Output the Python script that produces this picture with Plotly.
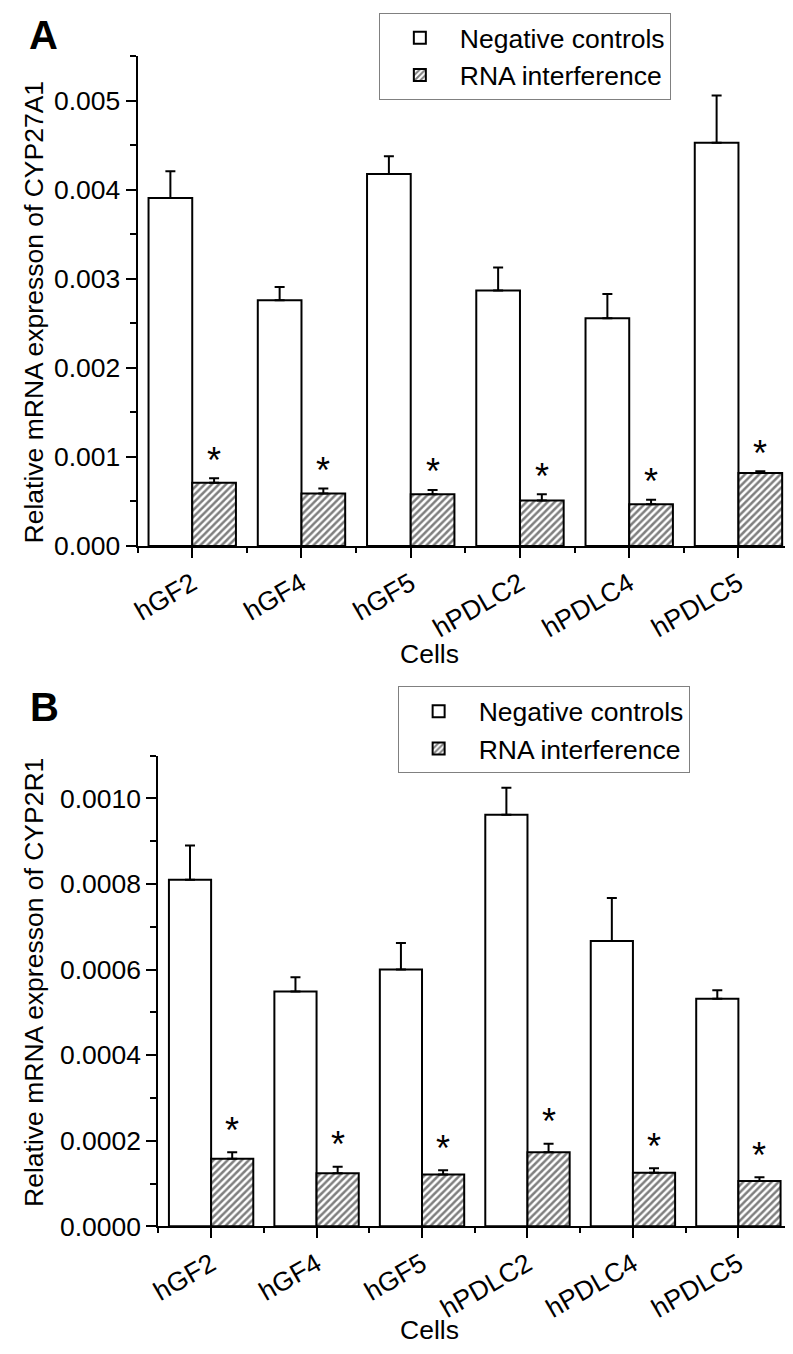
import plotly.graph_objects as go

# ---- data ----
cells = ["hGF2", "hGF4", "hGF5", "hPDLC2", "hPDLC4", "hPDLC5"]
series_names = ["Negative controls", "RNA interference"]

a_nc = [0.00391, 0.00276, 0.00418, 0.00287, 0.00256, 0.00453]
a_nc_err = [0.00030, 0.00015, 0.00020, 0.00026, 0.00027, 0.00053]
a_ri = [0.00071, 0.00059, 0.00058, 0.00051, 0.00047, 0.00082]
a_ri_err = [0.00005, 0.000055, 0.00005, 0.00007, 0.00005, 0.00002]

b_nc = [0.000810, 0.000549, 0.000600, 0.000962, 0.000667, 0.000532]
b_nc_err = [0.000080, 0.000033, 0.000062, 0.000063, 0.000100, 0.000020]
b_ri = [0.000158, 0.000124, 0.000121, 0.000173, 0.000125, 0.000106]
b_ri_err = [0.000015, 0.000015, 0.000010, 0.000020, 0.000011, 0.000009]

y_title_a = "Relative mRNA expresson of CYP27A1"
y_title_b = "Relative mRNA expresson of CYP2R1"
x_title = "Cells"

W, H = 793, 1354
FONT = "Liberation Sans, Arial, sans-serif"
FS = 26.5


def px_x(p):
    return p / W


def px_y(p):
    return 1 - p / H


xs = list(range(len(cells)))

fig = go.Figure()


def add_panel(nc, nc_err, ri, ri_err, xaxis, yaxis, legend):
    fig.add_trace(go.Bar(
        x=xs, y=nc, name=series_names[0], xaxis=xaxis, yaxis=yaxis,
        legend=legend, offsetgroup="nc",
        marker=dict(color="white", line=dict(color="black", width=2)),
        error_y=dict(type="data", symmetric=False, array=nc_err,
                     arrayminus=[0] * len(nc), color="black", thickness=2, width=5),
    ))
    fig.add_trace(go.Bar(
        x=xs, y=ri, name=series_names[1], xaxis=xaxis, yaxis=yaxis,
        legend=legend, offsetgroup="ri",
        marker=dict(color="white", line=dict(color="black", width=2),
                    pattern=dict(shape="/", fgcolor="black", bgcolor="white",
                                 size=5, solidity=0.5)),
        error_y=dict(type="data", symmetric=False, array=ri_err,
                     arrayminus=[0] * len(ri), color="black", thickness=2, width=5),
    ))


add_panel(a_nc, a_nc_err, a_ri, a_ri_err, "x", "y", "legend")
add_panel(b_nc, b_nc_err, b_ri, b_ri_err, "x2", "y2", "legend2")

xcommon = dict(
    range=[-0.5, len(cells) - 0.5], tickvals=xs, ticktext=cells,
    ticks="outside", ticklen=10, tickwidth=2, tickcolor="black",
    minor=dict(dtick=1, tick0=0.5, ticks="outside", ticklen=5, tickwidth=2,
               tickcolor="black", showgrid=False),
    showline=True, linewidth=2, linecolor="black", showgrid=False,
    zeroline=False, tickangle=-30, fixedrange=True,
    tickfont=dict(family=FONT, size=FS, color="black"),
)
ycommon = dict(
    ticks="outside", ticklen=10, tickwidth=2, tickcolor="black",
    showline=True, linewidth=2, linecolor="black", showgrid=False,
    zeroline=False, fixedrange=True,
    tickfont=dict(family=FONT, size=FS, color="black"),
)

legend_common = dict(xanchor="left", yanchor="top",
                     bordercolor="#808080", borderwidth=1, bgcolor="white",
                     font=dict(family=FONT, size=FS, color="black"),
                     itemwidth=70, tracegroupgap=0)

fig.update_layout(
    width=W, height=H, margin=dict(l=0, r=0, t=0, b=0),
    paper_bgcolor="white", plot_bgcolor="white",
    barmode="group", bargap=0.2, bargroupgap=0,
    font=dict(family=FONT, size=FS, color="black"),
    xaxis=dict(domain=[px_x(122), px_x(785)], anchor="y", **xcommon),
    yaxis=dict(domain=[px_y(544), px_y(49)], anchor="x", range=[0, 0.0055],
               dtick=0.001, tick0=0, tickformat=".3f",
               minor=dict(dtick=0.0005, ticks="outside", ticklen=6, tickwidth=2,
                          tickcolor="black", showgrid=False),
               **ycommon),
    xaxis2=dict(domain=[px_x(143), px_x(783)], anchor="y2", **xcommon),
    yaxis2=dict(domain=[px_y(1232), px_y(756)], anchor="x2", range=[0, 0.0011],
                dtick=0.0002, tick0=0, tickformat=".4f",
                minor=dict(dtick=0.0001, ticks="outside", ticklen=6, tickwidth=2,
                           tickcolor="black", showgrid=False),
                **ycommon),
    legend=dict(x=px_x(366), y=px_y(5), **legend_common),
    legend2=dict(x=px_x(385), y=px_y(686), **legend_common),
    showlegend=True,
)

annotations = []
# significance stars above the RNA interference bars
for xa, ya, vals, errs, shift in (("x", "y", a_ri, a_ri_err, 18),
                                  ("x2", "y2", b_ri, b_ri_err, 22)):
    for i, (v, e) in enumerate(zip(vals, errs)):
        annotations.append(dict(
            x=xs[i] + 0.2, y=v + e, xref=xa, yref=ya, text="*",
            showarrow=False, xanchor="center", yanchor="middle", yshift=shift,
            font=dict(family=FONT, size=36, color="black")))

# axis titles and panel letters
for txt, x, y, ang in ((y_title_a, 17, 307, -90), (y_title_b, 17, 985, -90),
                       (x_title, 417, 653, 0), (x_title, 417, 1337, 0)):
    annotations.append(dict(x=px_x(x), y=px_y(y), xref="paper", yref="paper",
                            text=txt, showarrow=False, textangle=ang,
                            xanchor="center", yanchor="middle",
                            font=dict(family=FONT, size=FS, color="black")))
for txt, x, y in (("<b>A</b>", 26.5, 27.5), ("<b>B</b>", 28, 706.5)):
    annotations.append(dict(x=px_x(x), y=px_y(y), xref="paper", yref="paper",
                            text=txt, showarrow=False, xanchor="center",
                            yanchor="middle",
                            font=dict(family=FONT, size=40, color="black")))

fig.update_layout(annotations=annotations)

fig.write_html("out.html")
